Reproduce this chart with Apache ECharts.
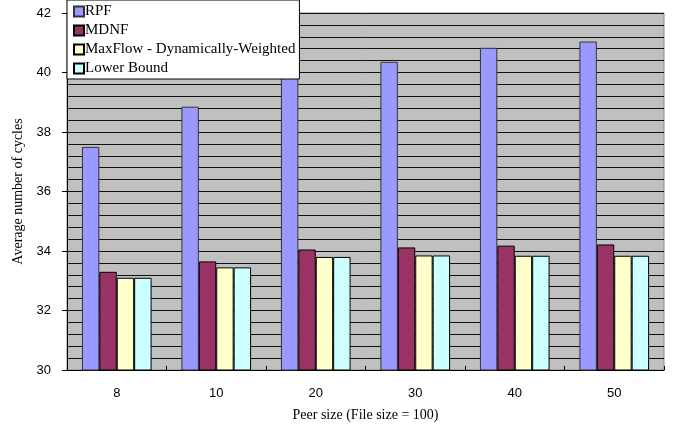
<!DOCTYPE html>
<html>
<head>
<meta charset="utf-8">
<script src="https://cdn.jsdelivr.net/npm/echarts@6/dist/echarts.min.js"></script>
<style>
  html, body { margin: 0; padding: 0; background: #fff; }
  #chart { width: 686px; height: 424px; }
</style>
</head>
<body>
<div id="chart"></div>
<script>
// peer sizes on the x axis
const peerSizes = ['8', '10', '20', '30', '40', '50']

// average number of cycles
const rpf = [37.5, 38.85, 39.9, 40.36, 40.83, 41.04]
const mdnf = [33.3, 33.65, 34.05, 34.12, 34.18, 34.22]
const maxFlow = [33.1, 33.45, 33.8, 33.85, 33.84, 33.84]
const lowerBound = [33.1, 33.45, 33.8, 33.85, 33.84, 33.84]

const serif = 'Liberation Serif'
const sans = 'Liberation Sans'

function barSeries(name, data, color, border) {
  return {
    name: name,
    type: 'bar',
    data: data,
    barGap: '0%',
    barCategoryGap: '30%',
    itemStyle: {
      color: color,
      borderColor: border,
      borderWidth: 1
    },
    animation: false
  }
}

const chart = echarts.init(document.getElementById('chart'))

chart.setOption({
  backgroundColor: '#ffffff',
  grid: {
    left: 67,
    right: 22,
    top: 13,
    bottom: 54,
    outerBoundsMode: 'none',
    containLabel: false,
    show: true,
    backgroundColor: '#c0c0c0',
    borderColor: '#8a8a8a',
    borderWidth: 1
  },
  legend: {
    orient: 'vertical',
    left: 67,
    top: 0,
    padding: [4, 4, 3, 6],
    itemGap: 4,
    itemWidth: 10,
    itemHeight: 10,
    backgroundColor: '#ffffff',
    borderColor: '#000000',
    borderWidth: 1,
    borderRadius: 0,
    icon: 'rect',
    textStyle: {
      fontFamily: serif,
      fontSize: 15,
      color: '#000',
      padding: [0, 0, 0, -4]
    },
    data: ['RPF', 'MDNF', 'MaxFlow - Dynamically-Weighted', 'Lower Bound']
  },
  xAxis: {
    type: 'category',
    data: peerSizes,
    name: 'Peer size (File size = 100)',
    nameLocation: 'middle',
    nameGap: 38,
    nameTextStyle: { fontFamily: serif, fontSize: 14, color: '#000' },
    axisLine: { lineStyle: { color: '#000', width: 1 } },
    axisTick: { show: true, inside: true, length: 4, lineStyle: { color: '#000' } },
    axisLabel: { fontFamily: sans, fontSize: 13, color: '#000', margin: 17 },
    splitLine: { show: false }
  },
  yAxis: {
    type: 'value',
    min: 30,
    max: 42,
    interval: 2,
    name: 'Average number of cycles',
    nameLocation: 'middle',
    nameGap: 39,
    nameTextStyle: { fontFamily: serif, fontSize: 14, color: '#000' },
    axisLine: { show: true, lineStyle: { color: '#000', width: 1 } },
    axisTick: { show: true, length: 5, lineStyle: { color: '#000' } },
    axisLabel: { fontFamily: sans, fontSize: 13, color: '#000', margin: 16 },
    splitLine: { show: true, lineStyle: { color: '#111111', width: 1 } },
    minorTick: { show: false, splitNumber: 5 },
    minorSplitLine: { show: true, lineStyle: { color: '#111111', width: 1 } }
  },
  series: [
    barSeries('RPF', rpf, '#9999ff', '#333333'),
    barSeries('MDNF', mdnf, '#993366', '#000000'),
    barSeries('MaxFlow - Dynamically-Weighted', maxFlow, '#ffffcc', '#000000'),
    barSeries('Lower Bound', lowerBound, '#ccffff', '#000000')
  ]
})
</script>
</body>
</html>
